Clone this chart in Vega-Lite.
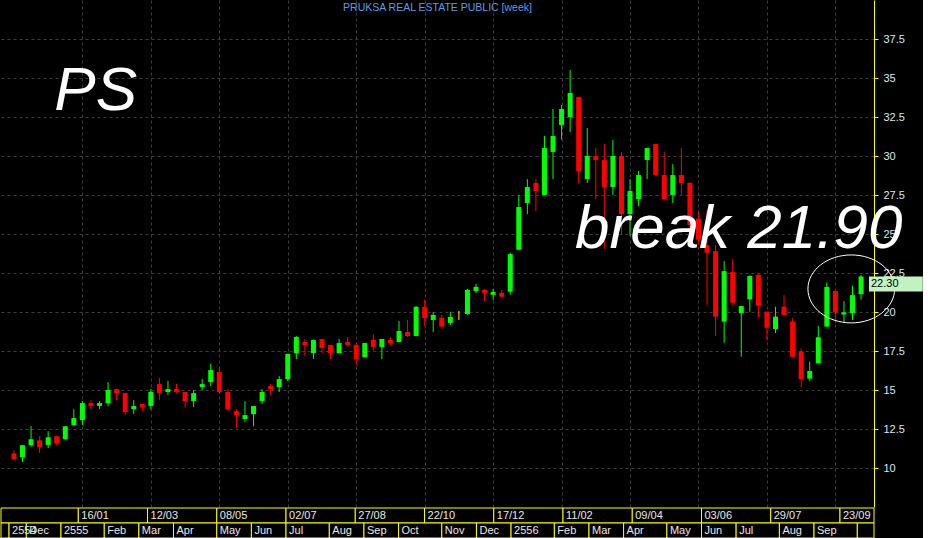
{
  "$schema": "https://vega.github.io/schema/vega-lite/v6.json",
  "background": "#000000",
  "padding": 0,
  "autosize": {"type": "pad"},
  "config": {
    "view": {"stroke": null},
    "concat": {"spacing": 0},
    "bar": {"minBandSize": 1.5},
    "font": "Liberation Sans"
  },
  "datasets": {
    "candles": [
      {"date":"2011-11-21","open":10.96,"high":11.16,"low":10.55,"close":10.58},
      {"date":"2011-11-28","open":10.71,"high":11.5,"low":10.4,"close":11.48},
      {"date":"2011-12-05","open":11.48,"high":12.7,"low":11.37,"close":11.86},
      {"date":"2011-12-12","open":11.8,"high":12.06,"low":10.98,"close":11.35},
      {"date":"2011-12-19","open":11.5,"high":12.38,"low":11.3,"close":11.99},
      {"date":"2011-12-26","open":12.06,"high":12.08,"low":11.48,"close":11.61},
      {"date":"2012-01-02","open":11.86,"high":12.72,"low":11.8,"close":12.7},
      {"date":"2012-01-09","open":12.77,"high":13.79,"low":12.72,"close":13.22},
      {"date":"2012-01-16","open":13.09,"high":14.31,"low":12.77,"close":14.18},
      {"date":"2012-01-23","open":14.18,"high":14.37,"low":13.79,"close":13.99},
      {"date":"2012-01-30","open":14.0,"high":14.31,"low":13.8,"close":14.18},
      {"date":"2012-02-06","open":14.18,"high":15.53,"low":13.99,"close":15.02},
      {"date":"2012-02-13","open":15.08,"high":15.1,"low":14.37,"close":14.82},
      {"date":"2012-02-20","open":14.82,"high":14.85,"low":13.43,"close":13.6},
      {"date":"2012-02-27","open":13.79,"high":14.37,"low":13.47,"close":13.99},
      {"date":"2012-03-05","open":14.12,"high":14.12,"low":13.66,"close":13.92},
      {"date":"2012-03-12","open":13.99,"high":15.08,"low":13.79,"close":14.89},
      {"date":"2012-03-19","open":15.4,"high":15.79,"low":14.37,"close":14.82},
      {"date":"2012-03-26","open":14.89,"high":15.6,"low":14.69,"close":15.08},
      {"date":"2012-04-02","open":15.08,"high":15.4,"low":14.82,"close":14.89},
      {"date":"2012-04-09","open":14.89,"high":14.9,"low":13.92,"close":14.31},
      {"date":"2012-04-16","open":14.31,"high":15.02,"low":13.92,"close":14.82},
      {"date":"2012-04-23","open":15.21,"high":15.72,"low":15.02,"close":15.4},
      {"date":"2012-04-30","open":15.53,"high":16.69,"low":15.27,"close":16.3},
      {"date":"2012-05-07","open":16.17,"high":16.5,"low":14.76,"close":14.89},
      {"date":"2012-05-14","open":14.89,"high":15.08,"low":13.66,"close":13.79},
      {"date":"2012-05-21","open":13.66,"high":13.79,"low":12.57,"close":13.41},
      {"date":"2012-05-28","open":13.15,"high":14.31,"low":12.96,"close":13.41},
      {"date":"2012-06-04","open":13.47,"high":14.0,"low":12.7,"close":13.99},
      {"date":"2012-06-11","open":14.31,"high":15.08,"low":14.12,"close":14.89},
      {"date":"2012-06-18","open":15.27,"high":15.4,"low":14.69,"close":15.08},
      {"date":"2012-06-25","open":15.21,"high":15.91,"low":14.89,"close":15.72},
      {"date":"2012-07-02","open":15.72,"high":17.35,"low":15.59,"close":17.33},
      {"date":"2012-07-09","open":17.39,"high":18.48,"low":17.0,"close":18.42},
      {"date":"2012-07-16","open":18.1,"high":18.29,"low":17.2,"close":17.9},
      {"date":"2012-07-23","open":17.39,"high":18.25,"low":17.0,"close":18.23},
      {"date":"2012-07-30","open":18.29,"high":18.3,"low":17.39,"close":17.71},
      {"date":"2012-08-06","open":17.9,"high":17.92,"low":17.0,"close":17.39},
      {"date":"2012-08-13","open":17.39,"high":18.29,"low":17.35,"close":18.03},
      {"date":"2012-08-20","open":18.1,"high":18.42,"low":17.78,"close":17.9},
      {"date":"2012-08-27","open":17.9,"high":18.03,"low":16.62,"close":17.0},
      {"date":"2012-09-03","open":17.13,"high":18.05,"low":17.1,"close":18.03},
      {"date":"2012-09-10","open":18.23,"high":18.61,"low":17.52,"close":17.78},
      {"date":"2012-09-17","open":17.78,"high":18.3,"low":17.0,"close":18.29},
      {"date":"2012-09-24","open":18.23,"high":18.42,"low":17.9,"close":18.03},
      {"date":"2012-10-01","open":18.1,"high":19.45,"low":18.08,"close":18.8},
      {"date":"2012-10-08","open":18.74,"high":19.51,"low":18.42,"close":18.48},
      {"date":"2012-10-15","open":18.48,"high":20.41,"low":18.45,"close":20.35},
      {"date":"2012-10-22","open":20.35,"high":20.8,"low":19.13,"close":19.63},
      {"date":"2012-10-29","open":19.51,"high":20.03,"low":18.74,"close":19.83},
      {"date":"2012-11-05","open":19.64,"high":19.83,"low":19.05,"close":19.08},
      {"date":"2012-11-12","open":19.32,"high":20.03,"low":19.19,"close":19.7},
      {"date":"2012-11-19","open":19.7,"high":20.09,"low":19.51,"close":19.7},
      {"date":"2012-11-26","open":19.89,"high":21.5,"low":19.85,"close":21.44},
      {"date":"2012-12-03","open":21.37,"high":21.83,"low":21.25,"close":21.63},
      {"date":"2012-12-10","open":21.44,"high":21.5,"low":20.73,"close":21.25},
      {"date":"2012-12-17","open":21.12,"high":21.5,"low":20.8,"close":21.31},
      {"date":"2012-12-24","open":21.25,"high":21.44,"low":20.93,"close":21.0},
      {"date":"2012-12-31","open":21.32,"high":23.82,"low":21.13,"close":23.73},
      {"date":"2013-01-07","open":24.01,"high":27.52,"low":24.0,"close":26.75},
      {"date":"2013-01-14","open":27.01,"high":28.54,"low":26.3,"close":28.03},
      {"date":"2013-01-21","open":28.29,"high":28.54,"low":26.49,"close":27.78},
      {"date":"2013-01-28","open":27.52,"high":31.3,"low":27.5,"close":30.53},
      {"date":"2013-02-04","open":30.28,"high":33.03,"low":28.54,"close":31.3},
      {"date":"2013-02-11","open":32.01,"high":33.29,"low":31.07,"close":33.03},
      {"date":"2013-02-18","open":32.52,"high":35.53,"low":31.56,"close":34.06},
      {"date":"2013-02-25","open":33.8,"high":33.82,"low":28.29,"close":29.06},
      {"date":"2013-03-04","open":28.54,"high":31.82,"low":28.29,"close":30.02},
      {"date":"2013-03-11","open":30.02,"high":30.53,"low":27.26,"close":29.76},
      {"date":"2013-03-18","open":29.76,"high":30.79,"low":24.07,"close":28.03},
      {"date":"2013-03-25","open":28.03,"high":31.05,"low":27.52,"close":30.02},
      {"date":"2013-04-01","open":30.02,"high":30.28,"low":24.97,"close":26.3},
      {"date":"2013-04-08","open":26.3,"high":28.54,"low":24.91,"close":27.78},
      {"date":"2013-04-15","open":27.26,"high":29.06,"low":26.81,"close":28.8},
      {"date":"2013-04-22","open":29.76,"high":30.55,"low":28.54,"close":30.53},
      {"date":"2013-04-29","open":30.79,"high":30.8,"low":28.75,"close":28.8},
      {"date":"2013-05-06","open":28.8,"high":30.28,"low":27.2,"close":27.26},
      {"date":"2013-05-13","open":27.52,"high":29.5,"low":27.01,"close":28.8},
      {"date":"2013-05-20","open":28.8,"high":30.53,"low":27.52,"close":28.29},
      {"date":"2013-05-27","open":28.29,"high":28.35,"low":25.0,"close":25.6},
      {"date":"2013-06-03","open":26.0,"high":26.5,"low":24.3,"close":24.65},
      {"date":"2013-06-10","open":24.31,"high":26.56,"low":20.45,"close":23.82},
      {"date":"2013-06-17","open":23.92,"high":24.31,"low":18.5,"close":19.72},
      {"date":"2013-06-24","open":19.4,"high":23.29,"low":18.05,"close":22.64},
      {"date":"2013-07-01","open":22.58,"high":23.42,"low":20.45,"close":20.62},
      {"date":"2013-07-08","open":19.94,"high":20.42,"low":17.15,"close":20.4},
      {"date":"2013-07-15","open":20.83,"high":22.35,"low":20.04,"close":22.33},
      {"date":"2013-07-22","open":22.39,"high":22.52,"low":19.68,"close":20.42},
      {"date":"2013-07-29","open":20.04,"high":20.05,"low":18.2,"close":19.01},
      {"date":"2013-08-05","open":18.93,"high":20.36,"low":18.67,"close":19.72},
      {"date":"2013-08-12","open":20.36,"high":21.1,"low":19.8,"close":19.83},
      {"date":"2013-08-19","open":19.4,"high":19.62,"low":17.1,"close":17.15},
      {"date":"2013-08-26","open":17.5,"high":17.69,"low":15.21,"close":15.72},
      {"date":"2013-09-02","open":15.75,"high":16.83,"low":15.6,"close":16.24},
      {"date":"2013-09-09","open":16.73,"high":19.12,"low":16.7,"close":18.4},
      {"date":"2013-09-16","open":19.09,"high":21.91,"low":19.05,"close":21.63},
      {"date":"2013-09-23","open":21.37,"high":21.4,"low":19.33,"close":19.98},
      {"date":"2013-09-30","open":19.86,"high":20.72,"low":19.36,"close":20.0},
      {"date":"2013-10-07","open":19.94,"high":21.7,"low":19.5,"close":21.1},
      {"date":"2013-10-14","open":21.16,"high":22.39,"low":20.8,"close":22.3}
    ],
    "cells": [
      {"row":"week","start":"2011-11-14T12:00:00Z","end":"2012-01-16","label":""},
      {"row":"week","start":"2012-01-16","end":"2012-03-12","label":"16/01"},
      {"row":"week","start":"2012-03-12","end":"2012-05-07","label":"12/03"},
      {"row":"week","start":"2012-05-07","end":"2012-07-02","label":"08/05"},
      {"row":"week","start":"2012-07-02","end":"2012-08-27","label":"02/07"},
      {"row":"week","start":"2012-08-27","end":"2012-10-22","label":"27/08"},
      {"row":"week","start":"2012-10-22","end":"2012-12-17","label":"22/10"},
      {"row":"week","start":"2012-12-17","end":"2013-02-11","label":"17/12"},
      {"row":"week","start":"2013-02-11","end":"2013-04-08","label":"11/02"},
      {"row":"week","start":"2013-04-08","end":"2013-06-03","label":"09/04"},
      {"row":"week","start":"2013-06-03","end":"2013-07-29","label":"03/06"},
      {"row":"week","start":"2013-07-29","end":"2013-09-23","label":"29/07"},
      {"row":"week","start":"2013-09-23","end":"2013-10-20T12:00:00Z","label":"23/09"},
      {"row":"month","start":"2011-11-14T12:00:00Z","end":"2011-11-21","label":""},
      {"row":"month","start":"2011-11-21","end":"2011-12-05","label":"2554"},
      {"row":"month","start":"2011-12-05","end":"2012-01-02","label":"Dec"},
      {"row":"month","start":"2012-01-02","end":"2012-02-06","label":"2555"},
      {"row":"month","start":"2012-02-06","end":"2012-03-05","label":"Feb"},
      {"row":"month","start":"2012-03-05","end":"2012-04-02","label":"Mar"},
      {"row":"month","start":"2012-04-02","end":"2012-05-07","label":"Apr"},
      {"row":"month","start":"2012-05-07","end":"2012-06-04","label":"May"},
      {"row":"month","start":"2012-06-04","end":"2012-07-02","label":"Jun"},
      {"row":"month","start":"2012-07-02","end":"2012-08-06","label":"Jul"},
      {"row":"month","start":"2012-08-06","end":"2012-09-03","label":"Aug"},
      {"row":"month","start":"2012-09-03","end":"2012-10-01","label":"Sep"},
      {"row":"month","start":"2012-10-01","end":"2012-11-05","label":"Oct"},
      {"row":"month","start":"2012-11-05","end":"2012-12-03","label":"Nov"},
      {"row":"month","start":"2012-12-03","end":"2012-12-31","label":"Dec"},
      {"row":"month","start":"2012-12-31","end":"2013-02-04","label":"2556"},
      {"row":"month","start":"2013-02-04","end":"2013-03-04","label":"Feb"},
      {"row":"month","start":"2013-03-04","end":"2013-04-01","label":"Mar"},
      {"row":"month","start":"2013-04-01","end":"2013-05-06","label":"Apr"},
      {"row":"month","start":"2013-05-06","end":"2013-06-03","label":"May"},
      {"row":"month","start":"2013-06-03","end":"2013-07-01","label":"Jun"},
      {"row":"month","start":"2013-07-01","end":"2013-08-05","label":"Jul"},
      {"row":"month","start":"2013-08-05","end":"2013-09-02","label":"Aug"},
      {"row":"month","start":"2013-09-02","end":"2013-10-07","label":"Sep"},
      {"row":"month","start":"2013-10-07","end":"2013-10-20T12:00:00Z","label":""}
    ],
    "notes": [
      {"date":"2011-12-24","value":32.97,"text":"PS"},
      {"date":"2013-02-22","value":24.1,"text":"break 21.90"}
    ],
    "circle": [
      {"date":"2013-10-06","value":21.5}
    ],
    "tag": [
      {"price":22.3,"label":"22.30"}
    ]
  },
  "vconcat": [
    {
      "width": 873,
      "height": 507,
      "title": {
        "text": "PRUKSA REAL ESTATE PUBLIC [week]",
        "anchor": "middle",
        "frame": "group",
        "offset": -13,
        "fontSize": 10.5,
        "fontWeight": "normal",
        "color": "#5c9ce6",
        "font": "Liberation Sans"
      },
      "layer": [
        {
          "data": {"name": "candles"},
          "mark": {"type": "rule", "strokeWidth": 1},
          "encoding": {
            "x": {
              "field": "date", "type": "temporal",
              "scale": {"type": "utc", "domain": [
                {"year":2011,"month":11,"date":14,"hours":12,"utc":true},
                {"year":2013,"month":10,"date":20,"hours":12,"utc":true}
              ]},
              "axis": {
                "values": [
                  {"year":2012,"month":1,"date":16,"utc":true},
                  {"year":2012,"month":3,"date":12,"utc":true},
                  {"year":2012,"month":5,"date":7,"utc":true},
                  {"year":2012,"month":7,"date":2,"utc":true},
                  {"year":2012,"month":8,"date":27,"utc":true},
                  {"year":2012,"month":10,"date":22,"utc":true},
                  {"year":2012,"month":12,"date":17,"utc":true},
                  {"year":2013,"month":2,"date":11,"utc":true},
                  {"year":2013,"month":4,"date":8,"utc":true},
                  {"year":2013,"month":6,"date":3,"utc":true},
                  {"year":2013,"month":7,"date":29,"utc":true},
                  {"year":2013,"month":9,"date":23,"utc":true}
                ],
                "labels": false, "ticks": false, "domain": false, "title": null,
                "grid": true, "gridColor": "#3c3c3c", "gridDash": [3, 3], "gridWidth": 1
              }
            },
            "y": {
              "field": "low", "type": "quantitative",
              "scale": {"domain": [7.52, 40.02], "nice": false, "zero": false},
              "axis": {
                "orient": "right",
                "values": [10, 12.5, 15, 17.5, 20, 22.5, 25, 27.5, 30, 32.5, 35, 37.5],
                "format": ".1~f",
                "title": null,
                "grid": true, "gridColor": "#3c3c3c", "gridDash": [3, 3],
                "domainColor": "#ffff00", "domainWidth": 1,
                "tickColor": "#ffff00", "tickSize": 4,
                "labelColor": "#dde6f2", "labelFontSize": 11, "labelPadding": 5,
                "labelFont": "Liberation Sans"
              }
            },
            "y2": {"field": "high"},
            "color": {
              "condition": [
                {"test": "datum.close > datum.open", "value": "#00ff00"},
                {"test": "datum.close < datum.open", "value": "#ff0000"}
              ],
              "value": "#ffff00"
            }
          }
        },
        {
          "data": {"name": "candles"},
          "mark": {"type": "bar", "size": 5},
          "encoding": {
            "x": {"field": "date", "type": "temporal"},
            "y": {"field": "open", "type": "quantitative"},
            "y2": {"field": "close"},
            "color": {
              "condition": [
                {"test": "datum.close > datum.open", "value": "#00ff00"},
                {"test": "datum.close < datum.open", "value": "#ff0000"}
              ],
              "value": "#ffff00"
            }
          }
        },
        {
          "data": {"name": "notes"},
          "mark": {"type": "text", "align": "left", "baseline": "alphabetic", "fontSize": 62, "fontStyle": "italic", "font": "Liberation Sans", "color": "#ffffff"},
          "encoding": {
            "x": {"field": "date", "type": "temporal"},
            "y": {"field": "value", "type": "quantitative"},
            "text": {"field": "text"}
          }
        },
        {
          "data": {"name": "circle"},
          "mark": {"type": "point", "shape": "M-1,0A1,0.784,0,1,1,1,0A1,0.784,0,1,1,-1,0Z", "size": 7517, "filled": false, "stroke": "#ffffff", "strokeWidth": 1, "opacity": 1},
          "encoding": {
            "x": {"field": "date", "type": "temporal"},
            "y": {"field": "value", "type": "quantitative"}
          }
        },
        {
          "data": {"name": "tag"},
          "mark": {"type": "rect", "color": "#c2f2c2"},
          "encoding": {
            "x": {"datum": {"year":2013,"month":10,"date":20,"hours":12,"utc":true}, "type": "temporal"},
            "x2": {"datum": {"year":2013,"month":12,"date":3,"hours":12,"utc":true}},
            "y": {"field": "price", "type": "quantitative"},
            "y2": {"datum": 21.34}
          }
        },
        {
          "data": {"name": "tag"},
          "mark": {"type": "text", "align": "left", "baseline": "middle", "dx": 2, "dy": 7.5, "fontSize": 11, "font": "Liberation Sans", "color": "#000000"},
          "encoding": {
            "x": {"datum": {"year":2013,"month":10,"date":20,"hours":12,"utc":true}, "type": "temporal"},
            "y": {"field": "price", "type": "quantitative"},
            "text": {"field": "label"}
          }
        }
      ]
    },
    {
      "width": 873,
      "height": 30,
      "data": {"name": "cells"},
      "layer": [
        {
          "mark": {"type": "rect", "fill": "#000000", "stroke": "#ffff00", "strokeWidth": 1},
          "encoding": {
            "x": {
              "field": "start", "type": "temporal",
              "scale": {"type": "utc", "domain": [
                {"year":2011,"month":11,"date":14,"hours":12,"utc":true},
                {"year":2013,"month":10,"date":20,"hours":12,"utc":true}
              ]},
              "axis": null
            },
            "x2": {"field": "end"},
            "y": {"field": "row", "type": "nominal", "scale": {"domain": ["week", "month"], "paddingInner": 0, "paddingOuter": 0}, "axis": null}
          }
        },
        {
          "mark": {"type": "text", "align": "left", "baseline": "middle", "dx": 3, "fontSize": 11, "font": "Liberation Sans", "color": "#e8e8e8"},
          "encoding": {
            "x": {"field": "start", "type": "temporal"},
            "y": {"field": "row", "type": "nominal"},
            "text": {"field": "label"}
          }
        }
      ]
    }
  ]
}
